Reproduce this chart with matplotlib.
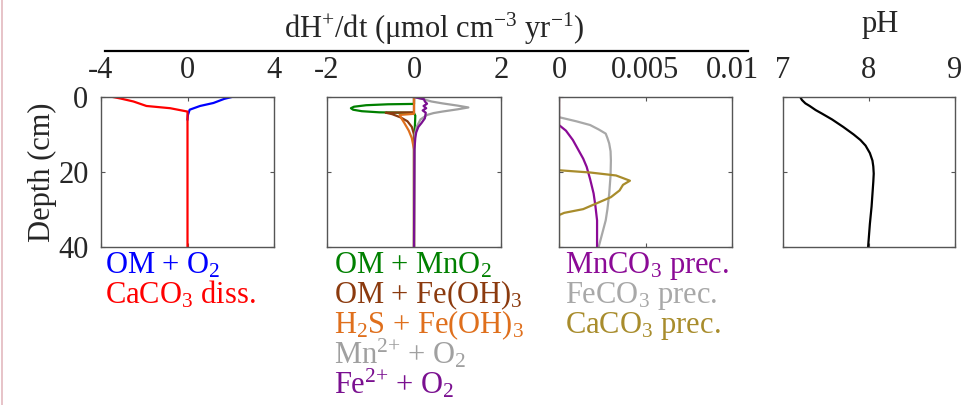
import numpy as np
import matplotlib
matplotlib.use("Agg")
import matplotlib.pyplot as plt
from matplotlib.lines import Line2D

plt.rcParams['font.family'] = ['Liberation Serif', 'DejaVu Serif']
plt.rcParams['mathtext.fontset'] = 'custom'
plt.rcParams['mathtext.rm'] = 'Liberation Serif'
plt.rcParams['mathtext.it'] = 'Liberation Serif:italic'
plt.rcParams['font.size'] = 22

# ---- panel 1: OM + O2, CaCO3 dissolution
d_om_o2 = [0, 0.5, 1.6, 2.4, 3.4, 4.8, 6]
om_o2 = [2.05, 1.7, 1.2, 0.58, 0.1, 0.02, 0]
d_ca_diss = [0, 0.4, 1.2, 2.4, 3.0, 3.9, 5, 40]
ca_diss = [-3.45, -3.1, -2.5, -1.9, -0.8, 0, 0, 0]

# ---- panel 2: redox reactions
d_mno2 = [0, 1.85, 1.95, 2.2, 2.6, 3.0, 3.4, 3.8, 4.1, 4.2, 4.25, 5, 8, 10, 40]
om_mno2 = [0, 0, -0.6, -1.1, -1.38, -1.45, -1.4, -1.2, -0.8, -0.3, 0, 0.03, 0.02, 0, 0]
d_feoh_om = [0, 4.1, 4.2, 4.6, 5.5, 6.5, 8, 10, 40]
om_feoh = [0, 0, -0.65, -0.5, -0.3, -0.15, -0.05, 0, 0]
d_feoh_h2s = [0, 4.5, 4.8, 5.5, 7, 9, 11, 14, 40]
h2s_feoh = [0, 0, -0.33, -0.3, -0.22, -0.12, -0.05, 0, 0]
d_mn_o2 = [0, 0.3, 0.6, 1.2, 1.7, 2.3, 2.8, 3.3, 3.9, 4.3, 4.8, 6, 8, 10, 40]
mn_o2 = [0, 0.1, 0.22, 0.4, 0.65, 1.0, 1.25, 1.0, 0.65, 0.45, 0.3, 0.15, 0.06, 0.02, 0]
d_fe_o2 = [0, 0.3, 0.6, 1.2, 1.8, 2.4, 3.0, 3.6, 4.2, 5.0, 5.7, 7, 8, 9.5, 11, 14, 40]
fe_o2 = [0, 0.12, 0.23, 0.25, 0.3, 0.22, 0.28, 0.2, 0.27, 0.26, 0.25, 0.17, 0.1, 0.05, 0.03, 0.01, 0]

# ---- panel 3: carbonate precipitation
d_feco3 = [0, 5.4, 6.5, 7.5, 8.7, 9.8, 11, 12.4, 14.5, 17, 21, 26, 30, 33, 36.5, 40]
feco3 = [0, 0, 0.0010, 0.0018, 0.0023, 0.0027, 0.0028, 0.0029, 0.00298, 0.003,
         0.00298, 0.0029, 0.0028, 0.0027, 0.0025, 0.0023]
d_mnco3 = [0, 7.5, 9, 11.5, 14, 16.5, 18.7, 22, 25.8, 29, 33, 36, 40]
mnco3 = [0, 0, 0.0004, 0.0008, 0.0011, 0.0014, 0.0016, 0.0018, 0.002, 0.0021,
         0.0022, 0.0022, 0.0022]
d_caco3 = [0, 19.6, 20.2, 21.0, 22.4, 23.5, 25, 26.8, 28.6, 30, 31, 31.6, 40]
caco3 = [0, 0, 0.0018, 0.0033, 0.0041, 0.0037, 0.0035, 0.003, 0.0021, 0.0014,
         0.0003, 0, 0]

# ---- panel 4: pH
d_ph = [0, 0.8, 1.7, 2.4, 3.5, 4.4, 6, 8, 10, 11.5, 13, 15, 17, 18.6, 20.5,
        22.7, 26, 29.3, 34, 40]
ph = [7.2, 7.22, 7.26, 7.31, 7.38, 7.45, 7.57, 7.70, 7.82, 7.9, 7.96, 8.01,
      8.04, 8.05, 8.055, 8.05, 8.04, 8.03, 8.01, 7.99]

W, H = 961, 405
fig = plt.figure(figsize=(W / 100, H / 100), dpi=100)

def px_axes(x0, x1, y0=97, y1=246.5):
    return fig.add_axes([x0 / W, 1 - y1 / H, (x1 - x0) / W, (y1 - y0) / H])

def style(ax, xlim, xticks, xlabels, ylabels=False):
    ax.set_xlim(xlim)
    ax.set_ylim(40, 0)
    ax.set_xticks(xticks)
    ax.set_xticklabels(xlabels)
    ax.set_yticks([0, 20, 40])
    ax.tick_params(direction='in', length=3, width=0.8, top=True, right=True,
                   labeltop=True, labelbottom=False, labelleft=ylabels,
                   colors='#555555', labelcolor='#262626', pad=9)
    for s in ax.spines.values():
        s.set_color('#555555')
        s.set_linewidth(1.0)

lw = 1.6
ax1 = px_axes(101, 274)
ax1.plot(om_o2, d_om_o2, color='#0000ff', lw=lw)
ax1.plot(ca_diss, d_ca_diss, color='#ff0000', lw=lw)
style(ax1, (-4, 4), [-4, 0, 4], ['-4', '0', '4'], ylabels=True)
ax1.set_ylabel('Depth (cm)', color='#262626', labelpad=1)

ax2 = px_axes(327, 501)
ax2.plot(om_mno2, d_mno2, color='#008000', lw=lw)
ax2.plot(om_feoh, d_feoh_om, color='#8b3a0e', lw=lw)
ax2.plot(h2s_feoh, d_feoh_h2s, color='#df6f1c', lw=lw)
ax2.plot(mn_o2, d_mn_o2, color='#a0a0a0', lw=lw)
ax2.plot(fe_o2, d_fe_o2, color='#7a1090', lw=lw)
style(ax2, (-2, 2), [-2, 0, 2], ['-2', '0', '2'])

ax3 = px_axes(559, 732)
ax3.plot(feco3, d_feco3, color='#a8a8a8', lw=lw)
ax3.plot(mnco3, d_mnco3, color='#8b0a96', lw=lw)
ax3.plot(caco3, d_caco3, color='#a88c2c', lw=lw)
style(ax3, (0, 0.01), [0, 0.005, 0.01], ['0', '0.005', '0.01'])

ax4 = px_axes(783, 955)
ax4.plot(ph, d_ph, color='black', lw=lw)
style(ax4, (7, 9), [7, 8, 9], ['7', '8', '9'])

# headers
fig.text(434 / W, 1 - 38 / H, r'dH$^{+}$/dt (μmol cm$^{-3}$ yr$^{-1}$)',
         ha='center', va='baseline', color='#262626')
fig.add_artist(Line2D([105 / W, 748 / W], [1 - 51 / H, 1 - 51 / H],
                      color='black', lw=1.6))
fig.text(880 / W, 1 - 32 / H, 'pH', ha='center', va='baseline', color='#262626')

# left pink border
fig.add_artist(Line2D([1.5 / W, 1.5 / W], [0, 1], color='#e3b9bf', lw=1.2))

# reaction labels
base = [273, 303, 333, 363, 393]
labels1 = [(r'OM + O$_2$', '#0000ff'), (r'CaCO$_3$ diss.', '#ff0000')]
labels2 = [(r'OM + MnO$_2$', '#008000'), (r'OM + Fe(OH)$_3$', '#8b3a0e'),
           (r'H$_2$S + Fe(OH)$_3$', '#df6f1c'), (r'Mn$^{2{+}}$ + O$_2$', '#a0a0a0'),
           (r'Fe$^{2{+}}$ + O$_2$', '#7a1090')]
labels3 = [(r'MnCO$_3$ prec.', '#8b0a96'), (r'FeCO$_3$ prec.', '#a8a8a8'),
           (r'CaCO$_3$ prec.', '#a88c2c')]
for x0, labs in [(105, labels1), (334, labels2), (565, labels3)]:
    for y, (t, c) in zip(base, labs):
        fig.text(x0 / W, 1 - y / H, t, color=c, ha='left', va='baseline')

fig.savefig('out.png', dpi=100)
